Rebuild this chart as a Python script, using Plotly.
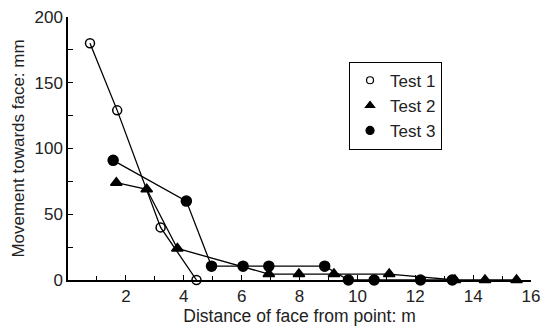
import plotly.graph_objects as go

t1_x = [0.76, 1.70, 3.2, 4.44]
t1_y = [180, 129, 40, 0]
t2_x = [1.67, 2.72, 3.78, 6.94, 7.98, 9.19, 11.1, 13.37, 14.41, 15.5]
t2_y = [74, 69, 24, 4.5, 4.5, 4.5, 4.5, 0, 0, 0]
t3_x = [1.56, 4.09, 4.96, 6.05, 6.94, 8.87, 9.69, 10.58, 12.18, 13.28]
t3_y = [91, 60, 10.5, 10.5, 10.5, 10.5, 0, 0, 0, 0]

names = ["Test 1", "Test 2", "Test 3"]
xs = [t1_x, t2_x, t3_x]
ys = [t1_y, t2_y, t3_y]
symbols = ["circle-open", "triangle-up", "circle"]
sizes = [9, 10, 10]

fig = go.Figure()
for n, x, y, s, sz in zip(names, xs, ys, symbols, sizes):
    fig.add_trace(go.Scatter(x=x, y=y, mode="lines+markers", showlegend=False,
                             line=dict(color="black", width=1.3),
                             marker=dict(symbol=s, size=sz, color="black",
                                         line=dict(color="black", width=1.5)),
                             cliponaxis=False))
for n, s, sz in zip(names, symbols, sizes):
    fig.add_trace(go.Scatter(x=[None], y=[None], mode="markers", name=n,
                             marker=dict(symbol=s, size=sz - 2, color="black",
                                         line=dict(color="black", width=1.2))))

fig.update_layout(
    width=542, height=329,
    margin=dict(l=68, r=11, t=17, b=49),
    paper_bgcolor="white", plot_bgcolor="white",
    font=dict(family="Liberation Sans", size=17, color="#222"),
    legend=dict(x=0.607, y=0.83, xanchor="left", yanchor="top",
                bordercolor="black", borderwidth=1, bgcolor="white",
                font=dict(size=17), itemwidth=30, tracegroupgap=0),
    xaxis=dict(range=[0, 16], showgrid=False, zeroline=False, automargin=False,
               showline=True, linecolor="black", linewidth=1.5,
               ticks="inside", ticklen=5, tickcolor="black", tickwidth=1.3,
               tickvals=[2, 4, 6, 8, 10, 12, 14, 16],
               tickfont=dict(size=17),
               minor=dict(ticks="inside", ticklen=4, tickcolor="black",
                          tickwidth=1.3, tickvals=[1, 3, 5, 7, 9, 11, 13, 15]),
               title=dict(text="Distance of face from point: m", standoff=2,
                          font=dict(size=17.5))),
    yaxis=dict(range=[0, 200], showgrid=False, zeroline=False, automargin=False,
               showline=True, linecolor="black", linewidth=1.5,
               ticks="inside", ticklen=5, tickcolor="black", tickwidth=1.3,
               tickvals=[0, 50, 100, 150, 200],
               tickfont=dict(size=17),
               minor=dict(ticks="inside", ticklen=5, tickcolor="black",
                          tickwidth=1.3, tickvals=[25, 75, 125, 175]),
               title=dict(text="Movement towards face: mm", standoff=6,
                          font=dict(size=17))),
)

fig.write_html("out.html")
